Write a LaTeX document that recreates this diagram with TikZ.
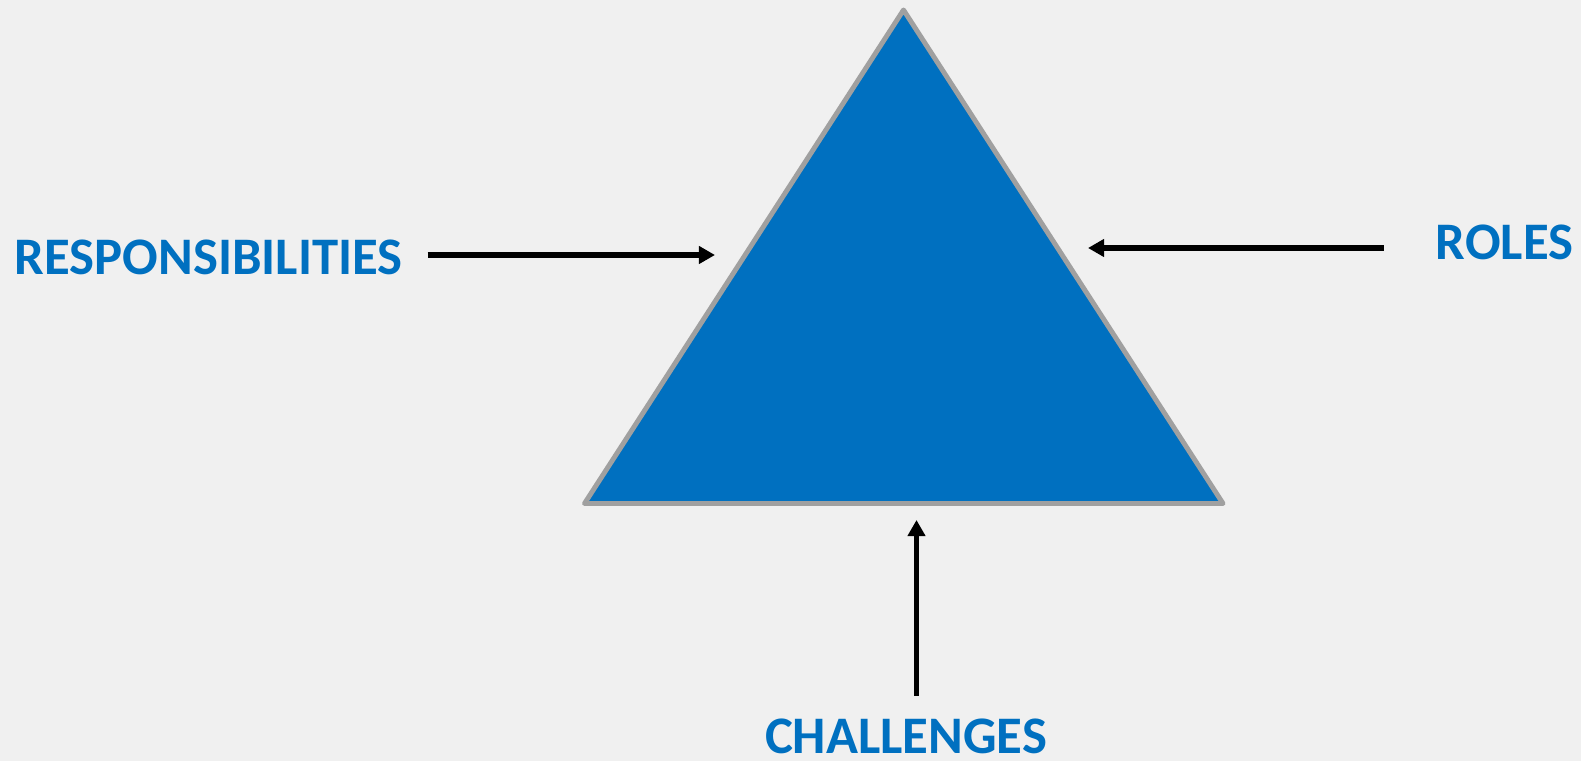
\documentclass[tikz,border=0pt]{standalone}
\usepackage{fontspec}
\setmainfont{Carlito}
\usetikzlibrary{arrows.meta}
\definecolor{bgGray}{RGB}{240,240,240}
\definecolor{triBlue}{RGB}{0,112,192}
\definecolor{triEdge}{RGB}{160,160,160}

\begin{document}
\begin{tikzpicture}[x=0.01cm, y=-0.01cm,
    word/.style={text=triBlue, font=\fontsize{15}{18}\selectfont\bfseries, inner sep=0pt},
    push/.style={-{Triangle[length=0.16cm, width=0.17cm]}, line width=1.45pt, black}]
  % background and frame
  \fill[bgGray] (0,0) rectangle (1581,761);
  \useasboundingbox (0,0) rectangle (1581,761);

  % the triangle
  \coordinate (apex)  at (903.5, 10);
  \coordinate (left)  at (584.5, 503.5);
  \coordinate (right) at (1223, 503.5);
  \draw[fill=triBlue, draw=triEdge, line width=1.4pt, line join=round] (apex) -- (left) -- (right) -- cycle;

  % labels
  \node[word, anchor=base west] (resp)  at (14, 275)   {RESPONSIBILITIES};
  \node[word, anchor=base east] (roles) at (1574, 260) {ROLES};
  \node[word, anchor=base]      (chal)  at (906, 753.5) {CHALLENGES};

  % arrow ends
  \coordinate (respS)  at (427.5, 255);
  \coordinate (respE)  at (715, 255);
  \coordinate (rolesS) at (1383.5, 248);
  \coordinate (rolesE) at (1088, 248);
  \coordinate (chalS)  at (916.5, 696);
  \coordinate (chalE)  at (916.5, 520);

  \draw[push] (respS)  -- (respE);
  \draw[push] (rolesS) -- (rolesE);
  \draw[push] (chalS)  -- (chalE);
\end{tikzpicture}
\end{document}
